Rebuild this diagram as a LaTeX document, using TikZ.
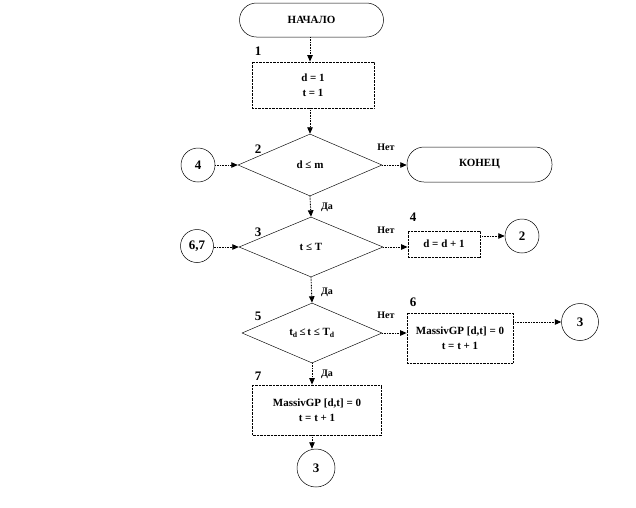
\documentclass[tikz,border=0pt]{standalone}
\usepackage{fontspec}
\setmainfont{Liberation Serif}
\usetikzlibrary{shapes.geometric,arrows.meta,calc}
\tikzset{
  base/.style={font=\bfseries\fontsize{11}{13}\selectfont, align=center, inner sep=0pt},
  term/.style={base, draw, line width=0.5pt, rounded corners=17pt, minimum width=144pt, minimum height=34pt},
  proc/.style={base, draw, dash pattern=on 0.7pt off 0.7pt, line width=0.8pt},
  dec/.style={base, draw, diamond, line width=0.45pt, minimum width=144pt, minimum height=62pt},
  conn/.style={base, draw, circle, line width=0.5pt, minimum size=34pt, font=\bfseries\fontsize{13}{15}\selectfont},
  arr/.style={dash pattern=on 0.8pt off 0.8pt, line width=0.9pt, -{Triangle[length=6.5pt,width=5.5pt,sep=0pt]}},
  num/.style={font=\bfseries\fontsize{13}{15}\selectfont, inner sep=0pt},
  yn/.style={font=\bfseries\fontsize{10}{12}\selectfont, inner sep=0pt},
}
\begin{document}
\begin{tikzpicture}[x=1pt,y=-1pt]
\useasboundingbox (0,0) rectangle (636,507);
% nodes
\node[term] (start) at (311.5,20) {НАЧАЛО};
\node[proc, minimum width=122pt, minimum height=46pt] (b1) at (313,85) {d = 1\\[2pt]t = 1};
\node[dec] (d2) at (310,165) {d ≤ m};
\node[term, minimum width=145pt, minimum height=35pt] (end) at (479.5,164.5) {КОНЕЦ};
\node[conn] (c4) at (198,165) {4};
\node[dec, minimum height=60pt] (d3) at (311,247) {t ≤ T};
\node[conn, minimum size=33pt] (c67) at (197,246) {6,7};
\node[proc, minimum width=72pt, minimum height=26pt] (b4) at (444,244) {d = d + 1};
\node[conn] (c2) at (522,236) {2};
\node[dec, minimum width=140pt, minimum height=60pt] (d5) at (312,333) {t\textsubscript{d}\,≤\,t ≤ T\textsubscript{d}};
\node[proc, minimum width=106pt, minimum height=50pt] (b6) at (460,338) {MassivGP [d,t] = 0\\[2pt]t = t + 1};
\node[conn, minimum size=37pt] (c3a) at (580,322) {3};
\node[proc, minimum width=129pt, minimum height=50pt] (b7) at (317,410) {MassivGP [d,t] = 0\\[2pt]t = t + 1};
\node[conn, minimum size=38pt] (c3b) at (316,468) {3};
% number labels
\node[num] (n1) at (258,51) {1};
\node[num] (n2) at (258,149) {2};
\node[num] (n3) at (258,232) {3};
\node[num] (n4) at (413,217) {4};
\node[num] (n5) at (258,316) {5};
\node[num] (n6) at (413,302) {6};
\node[num] (n7) at (258,376) {7};
% connectors
\draw[arr] (start.south -| d2.north) -- (b1.north -| d2.north);
\draw[arr] (b1.south -| d2.north) -- (d2.north);
\draw[arr] (c4) -- (d2.west);
\draw[arr] (d2.east) -- (d2.east -| end.west);
\draw[arr] (d2.south) -- (d3.north);
\draw[arr] (c67.east |- d3.west) -- (d3.west);
\draw[arr] (d3.east) -- (d3.east -| b4.west);
\draw[arr] (b4.east |- c2) -- (c2.west);
\draw[arr] (d3.south) -- (d5.north);
\draw[arr] (d5.east) -- (d5.east -| b6.west);
\draw[arr] (b6.east |- c3a) -- (c3a.west);
\draw[arr] (d5.south) -- (d5.south |- b7.north);
\draw[arr] (b7.south -| d5.south) -- (d5.south |- c3b.north);
% yes / no labels
\node[yn] (no2) at (386,147) {Нет};
\node[yn] (no3) at (386,230) {Нет};
\node[yn] (no5) at (386,315) {Нет};
\node[yn] (y2) at (327,207) {Да};
\node[yn] (y3) at (327,292) {Да};
\node[yn] (y5) at (327,374) {Да};
\end{tikzpicture}
\end{document}
